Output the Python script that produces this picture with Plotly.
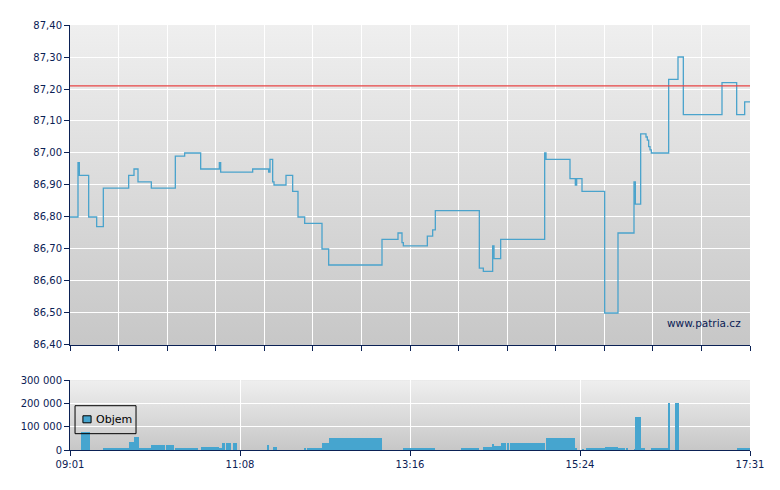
"""Intraday price + volume chart (patria.cz style)"""

import base64
import numpy as np
import pandas as pd
import plotly.graph_objects as go

# Data
# --------------------
day = "2024-01-02 "
session_start = "09:01"
session_end = "17:31"
prev_close = 87.21

price_times = [
    "09:01", "09:07", "09:08", "09:15", "09:21", "09:26", "09:45", "09:49", "09:52", "10:02",
    "10:20", "10:27", "10:39", "10:53", "10:54", "11:18", "11:30", "11:31", "11:33", "11:34",
    "11:43", "11:48", "11:52", "11:57", "12:10", "12:15", "12:55", "13:07", "13:10", "13:11",
    "13:29", "13:33", "13:35", "14:08", "14:11", "14:18", "14:19", "14:24", "14:57", "14:58",
    "15:16", "15:20", "15:21", "15:25", "15:42", "15:52", "16:04", "16:05", "16:09", "16:13",
    "16:14", "16:15", "16:16", "16:17", "16:30", "16:37", "16:41", "17:10", "17:21", "17:27",
    "17:31",
]
prices = [
    86.80, 86.97, 86.93, 86.80, 86.77, 86.89, 86.93, 86.95, 86.91, 86.89,
    86.99, 87.00, 86.95, 86.97, 86.94, 86.95, 86.94, 86.98, 86.91, 86.90,
    86.93, 86.88, 86.80, 86.78, 86.70, 86.65, 86.73, 86.75, 86.72, 86.71,
    86.74, 86.76, 86.82, 86.64, 86.63, 86.71, 86.67, 86.73, 87.00, 86.98,
    86.92, 86.90, 86.92, 86.88, 86.50, 86.75, 86.91, 86.84, 87.06, 87.05,
    87.04, 87.02, 87.01, 87.00, 87.23, 87.30, 87.12, 87.22, 87.12, 87.16,
    87.16,
]

volume_times = [
    "09:09", "09:16", "09:26", "09:45", "09:49", "09:53", "10:02", "10:12", "10:13", "10:19",
    "10:20", "10:37", "10:39", "10:53", "10:55", "10:57", "10:58", "11:02", "11:03", "11:06",
    "11:29", "11:30", "11:33", "11:36", "11:57", "11:58", "11:59", "12:10", "12:15", "12:55",
    "13:11", "13:32", "13:35", "13:54", "14:08", "14:11", "14:18", "14:19", "14:24", "14:28",
    "14:29", "14:30", "14:31", "14:57", "14:58", "15:20", "15:21", "15:25", "15:26", "15:28",
    "15:42", "15:52", "15:57", "15:58", "15:59", "16:04", "16:05", "16:09", "16:12", "16:17",
    "16:30", "16:31", "16:35", "16:38", "17:21",
]
volumes = [
    78000, 0, 4000, 34000, 56000, 4000, 22000, 0, 22000, 0,
    4000, 0, 13000, 4000, 30000, 0, 30000, 0, 30000, 0,
    22000, 0, 13000, 0, 4000, 0, 4000, 30000, 52000, 0,
    4000, 8000, 0, 4000, 0, 13000, 26000, 17000, 30000, 0,
    30000, 0, 30000, 0, 52000, 4000, 0, 3000, 0, 4000,
    13000, 4000, 0, 4000, 0, 3000, 142000, 4000, 0, 5000,
    202000, 0, 202000, 0, 4000,
]

volume_ticklabels = ["09:01", "11:08", "13:16", "15:24", "17:31"]
legend_name = "Objem"

# Styling
# --------------------
NAVY = "#0B2155"
LINE_BLUE = "#4AA3CC"
BAR_BLUE = "#46A5CF"
FONT = "DejaVu Sans"

t0 = pd.Timestamp(day + session_start)
t1 = pd.Timestamp(day + session_end)
px_t = pd.to_datetime([day + t for t in price_times])
vol_t = pd.to_datetime([day + t for t in volume_times])
vol_w = np.diff(np.append(vol_t.values, np.datetime64(t1))).astype("timedelta64[ms]").astype(float)

price_ticks = pd.date_range(t0, t1, periods=15)
vol_ticks = pd.date_range(t0, t1, periods=5)

# gradient background as inline svg
svg = (
    '<svg xmlns="http://www.w3.org/2000/svg" width="10" height="100" preserveAspectRatio="none">'
    '<defs><linearGradient id="g" x1="0" y1="0" x2="0" y2="1">'
    '<stop offset="0" stop-color="#EFEFEF"/><stop offset="1" stop-color="#C7C7C7"/>'
    '</linearGradient></defs><rect width="10" height="100" fill="url(#g)"/></svg>'
)
bg_src = "data:image/svg+xml;base64," + base64.b64encode(svg.encode()).decode()

fig = go.Figure()

fig.add_trace(go.Scatter(
    x=px_t, y=prices, mode="lines", line=dict(color=LINE_BLUE, width=1.3, shape="hv"),
    showlegend=False, hoverinfo="skip", xaxis="x", yaxis="y",
))
fig.add_trace(go.Bar(
    x=vol_t, y=volumes, width=vol_w, offset=0, marker=dict(color=BAR_BLUE, line=dict(width=0)),
    name=legend_name, showlegend=False, hoverinfo="skip", xaxis="x2", yaxis="y2",
))

fig.add_shape(type="line", xref="x domain", yref="y", x0=0, x1=1, y0=prev_close, y1=prev_close,
              line=dict(color="#E84444", width=1.2))

for ya in ["y", "y2"]:
    fig.add_layout_image(source=bg_src, xref="x domain" if ya == "y" else "x2 domain",
                         yref=ya + " domain", x=0, y=1, sizex=1, sizey=1,
                         sizing="stretch", layer="below", xanchor="left", yanchor="top")

# small boxed legend inside the volume panel
fig.add_shape(type="rect", xref="paper", yref="paper", x0=0.0074, x1=0.0971, y0=0.0384, y1=0.1042,
              line=dict(color="black", width=1), fillcolor="rgba(0,0,0,0)")
fig.add_shape(type="rect", xref="paper", yref="paper", x0=0.0190, x1=0.0310, y0=0.0640, y1=0.0805,
              line=dict(color="black", width=1), fillcolor=BAR_BLUE)
fig.add_annotation(text=legend_name, xref="paper", yref="paper", x=0.0360, y=0.0715,
                   xanchor="left", yanchor="middle", showarrow=False,
                   font=dict(family=FONT, size=11, color="black"))

fig.add_annotation(text="www.patria.cz", xref="paper", yref="paper", x=0.99, y=0.299,
                   xanchor="right", yanchor="middle", showarrow=False,
                   font=dict(family=FONT, size=10.5, color=NAVY))

axis_common = dict(showline=True, linecolor=NAVY, linewidth=1, ticks="outside", tickcolor=NAVY,
                   ticklen=5, gridcolor="white", gridwidth=1, zeroline=False, automargin=False,
                   tickfont=dict(family=FONT, size=10, color=NAVY))

# page body has an 8px margin, so size and margins are set to put the plot area at x 70..750
fig.update_layout(
    width=764, height=474,
    margin=dict(l=62, r=22, t=17, b=32),
    paper_bgcolor="white", plot_bgcolor="#DCDCDC",
    separators=", ",
    font=dict(family=FONT, size=10, color=NAVY),
    showlegend=False,
    xaxis=dict(domain=[0, 1], anchor="y", type="date", range=[t0, t1], tickvals=price_ticks,
               showticklabels=False, **axis_common),
    yaxis=dict(domain=[0.2471, 1], anchor="x", range=[86.40, 87.40], dtick=0.1, tick0=86.4,
               tickformat=".2f", **axis_common),
    xaxis2=dict(domain=[0, 1], anchor="y2", type="date", range=[t0, t1], tickvals=vol_ticks,
                ticktext=volume_ticklabels, **axis_common),
    yaxis2=dict(domain=[0, 0.164], anchor="x2", range=[0, 300000], tickvals=[0, 100000, 200000, 300000],
                tickformat=",d", **axis_common),
    bargap=0,
)

fig.write_html("out.html")
